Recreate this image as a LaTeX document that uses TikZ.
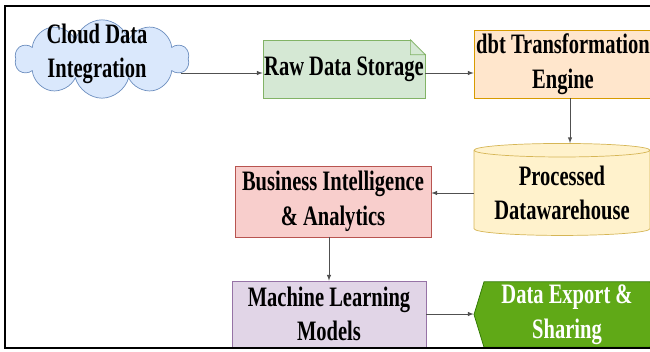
\documentclass[tikz,border=0pt]{standalone}
\usepackage{fontspec}
\newfontfamily\diagfont{Liberation Serif}[FakeStretch=0.73]
\usetikzlibrary{arrows}
\usetikzlibrary{positioning}
\usetikzlibrary{shapes.geometric}
\usetikzlibrary{shapes.symbols}
\usetikzlibrary{calc}

\definecolor{cloudfill}{HTML}{DAE8FC}
\definecolor{cloudline}{HTML}{6C8EBF}
\definecolor{rawfill}{HTML}{D5E8D4}
\definecolor{rawline}{HTML}{82B366}
\definecolor{dbtfill}{HTML}{FFE6CC}
\definecolor{dbtline}{HTML}{D79B00}
\definecolor{procfill}{HTML}{FFF2CC}
\definecolor{procline}{HTML}{D6B656}
\definecolor{bifill}{HTML}{F8CECC}
\definecolor{biline}{HTML}{B85450}
\definecolor{mlfill}{HTML}{E1D5E7}
\definecolor{mlline}{HTML}{9673A6}
\definecolor{hexfill}{HTML}{60A917}
\definecolor{hexline}{HTML}{2D7600}
\definecolor{linkgray}{HTML}{505050}

\begin{document}
\begin{tikzpicture}[
      x = 0.03cm, y = -0.03cm,
      >=latex,
      boxtext/.style = {
        align = center, inner sep = 0pt,
        font = \diagfont\bfseries\fontsize{24}{29.5}\selectfont
      },
      block/.style = {
        boxtext, rectangle, draw, line width = 0.6pt
      },
      link/.style = { ->, draw = linkgray, line width = 0.7pt },
    ]

    \useasboundingbox (0,0) rectangle (650,351);

    \node[cloud, cloud puffs = 10, aspect = 2.2, draw = cloudline,
      fill = cloudfill, line width = 0.6pt, inner sep = 0pt,
      minimum width = 5.2cm, minimum height = 2.35cm] (cloud) at (102,59) {};
    \node[boxtext] (cloudtext) at (97,54) {Cloud Data\\Integration};

    \node[block, fill = rawfill, draw = rawline,
      minimum width = 4.86cm, minimum height = 1.74cm] (raw) at (344,69)
      {Raw Data Storage};
    \fill[white] ($(raw.north east)+(-15,-1)$) -- ($(raw.north east)+(1,-1)$)
      -- ($(raw.north east)+(1,15)$) -- cycle;
    \draw[rawline, fill = rawfill, line width = 0.6pt]
      ($(raw.north east)+(-15,0)$) -- ($(raw.north east)+(0,15)$)
      -- ($(raw.north east)+(-15,15)$) -- cycle;

    \node[block, fill = dbtfill, draw = dbtline,
      minimum width = 5.34cm, minimum height = 2.04cm] (dbt) at (563,64)
      {dbt Transformation\\Engine};

    \node[block, cylinder, shape border rotate = 90, aspect = 0.1,
      fill = procfill, draw = procline,
      minimum width = 5.28cm, minimum height = 2.76cm] (proc) at (562,193)
      {Processed\\Datawarehouse};

    \node[block, fill = bifill, draw = biline,
      minimum width = 5.88cm, minimum height = 2.13cm] (bi) at (333,201.5)
      {Business Intelligence\\\& Analytics};

    \node[block, fill = mlfill, draw = mlline,
      minimum width = 5.82cm, minimum height = 1.98cm] (ml) at (329,314)
      {Machine Learning\\Models};

    \node[block, signal, signal to = east and west, signal pointer angle = 146,
      fill = hexfill, draw = hexline, text = white,
      minimum width = 5.58cm, minimum height = 1.96cm] (export) at (567,314.5)
      {Data Export \&\\Sharing};

    \draw[link] ($(cloud.east |- raw.west)+(-8,4)$) -- ($(raw.west)+(0,4)$);
    \draw[link] ($(raw.east)+(0,4)$) -- ($(raw.east -| dbt.west)+(0,4)$);
    \draw[link] ($(dbt.south)+(7,0)$) -- ($(dbt.south |- proc.north)+(7,0)$);
    \draw[link] (proc.west) -- (proc.west -| bi.east);
    \draw[link] (bi.south -| ml.north) -- (ml.north);
    \draw[link] (ml.east) -- (ml.east -| export.west);

    \draw[black, line width = 1.8pt] (5,6) rectangle (700,348);
  \end{tikzpicture}
\end{document}
